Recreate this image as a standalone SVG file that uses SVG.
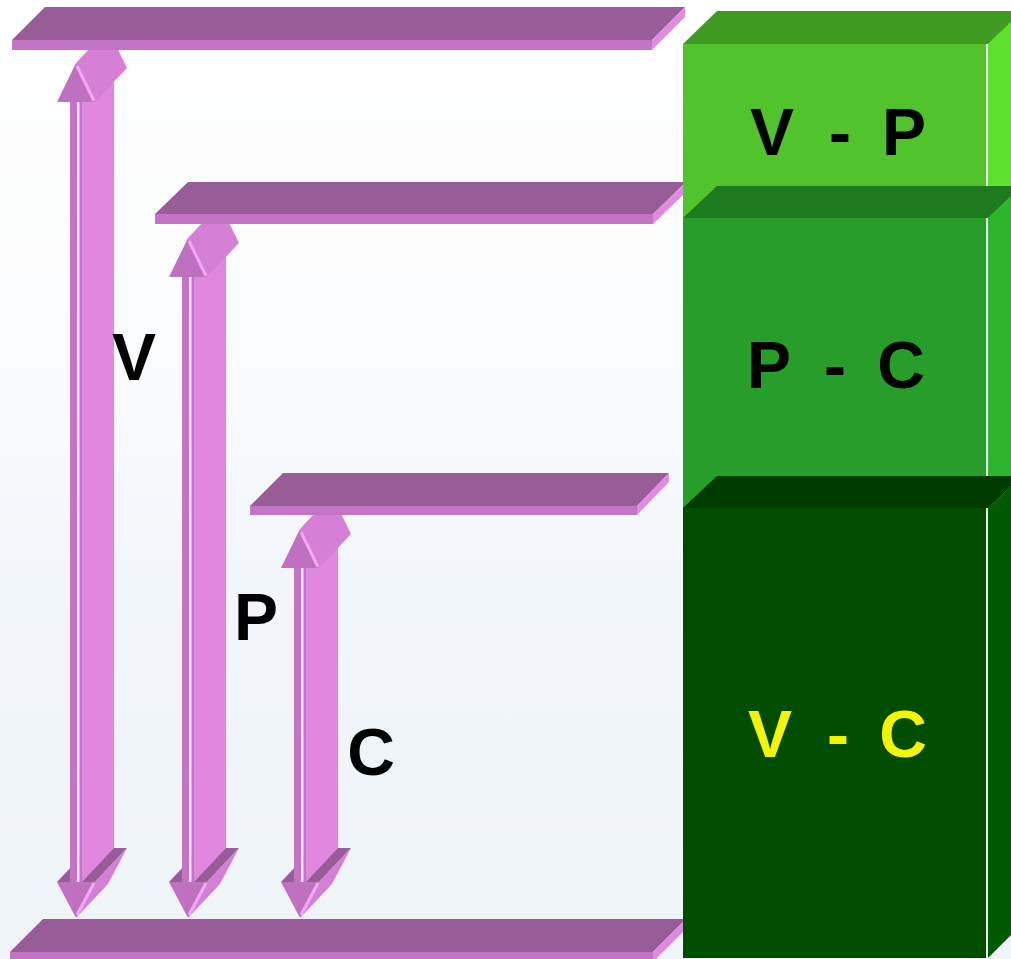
<svg xmlns="http://www.w3.org/2000/svg" width="1011" height="959" viewBox="0 0 1011 959">
  <style>
    .ptop { fill: #985c97; }
    .pfront { fill: #c474c4; }
    .pside { fill: #e08ae0; }
    .shaft-front { fill: #c474c4; }
    .shaft-hl { fill: #f6e6f6; }
    .shaft-side { fill: #e088e0; }
    .head-front { fill: #c070c0; }
    .head-side { fill: #d580d6; }
    .head-top { fill: #985c97; }
    .head-edge { stroke: #f2a8f2; stroke-width: 3; fill: none; }
    .lbl { font-family: "Liberation Sans", Arial, sans-serif; font-weight: bold; font-size: 66px; text-anchor: middle; fill: #000; }
    .edge-hl { fill: #f2fff0; }
  </style>
  <defs>
    <linearGradient id="bg" x1="0" y1="0" x2="0" y2="1">
      <stop offset="0" stop-color="#ffffff"/>
      <stop offset="0.35" stop-color="#fbfcfd"/>
      <stop offset="0.6" stop-color="#f2f6fa"/>
      <stop offset="1" stop-color="#eff4f8"/>
    </linearGradient>
    <!-- arrowhead pointing up, apex at origin -->
    <g id="head-up">
      <polygon class="head-side" points="0,0 19,39 51,5 32,-34"/>
      <polygon class="head-front" points="-19,39 19,39 0,0"/>
      <line class="head-edge" x1="1" y1="3" x2="18" y2="38"/>
    </g>
    <!-- arrowhead pointing down, apex at origin -->
    <g id="head-down">
      <polygon class="head-side" points="19,-36 51,-70 32,-34 0,0"/>
      <polygon class="head-front" points="-19,-36 19,-36 0,0"/>
      <line class="head-edge" x1="1" y1="-3" x2="18" y2="-35"/>
    </g>
    <polygon id="head-down-top" class="head-top" points="-19,-36 19,-36 51,-70 13,-70"/>
  </defs>

  <rect width="1011" height="959" fill="url(#bg)"/>

  <!-- dimension arrows -->
  <g id="connectors">
    <g id="arrow-v">
      <use href="#head-down-top" x="76" y="918"/>
      <polygon class="shaft-side" points="82,102 114,68 114,848 82,882"/>
      <rect class="shaft-front" x="70" y="102" width="12" height="780"/>
      <rect class="shaft-hl" x="77" y="102" width="2.5" height="780"/>
      <use href="#head-up" x="76" y="63"/>
      <use href="#head-down" x="76" y="918"/>
    </g>
    <g id="arrow-p">
      <use href="#head-down-top" x="188" y="918"/>
      <polygon class="shaft-side" points="194,277 226,243 226,848 194,882"/>
      <rect class="shaft-front" x="182" y="277" width="12" height="605"/>
      <rect class="shaft-hl" x="189" y="277" width="2.5" height="605"/>
      <use href="#head-up" x="188" y="238"/>
      <use href="#head-down" x="188" y="918"/>
    </g>
    <g id="arrow-c">
      <use href="#head-down-top" x="300" y="918"/>
      <polygon class="shaft-side" points="306,568 338,534 338,848 306,882"/>
      <rect class="shaft-front" x="294" y="568" width="12" height="314"/>
      <rect class="shaft-hl" x="301" y="568" width="2.5" height="314"/>
      <use href="#head-up" x="300" y="529"/>
      <use href="#head-down" x="300" y="918"/>
    </g>
  </g>

  <!-- level plates -->
  <g id="plate-1">
    <polygon class="ptop" points="45,7 685,7 652,40 12,40"/>
    <rect class="pfront" x="12" y="40" width="640" height="10"/>
    <polygon class="pside" points="652,40 685,7 685,17 652,50"/>
  </g>
  <g id="plate-2">
    <polygon class="ptop" points="188,182 686,182 653,214 155,214"/>
    <rect class="pfront" x="155" y="214" width="498" height="10"/>
    <polygon class="pside" points="653,214 686,182 686,192 653,224"/>
  </g>
  <g id="plate-3">
    <polygon class="ptop" points="283,473 669,473 637,506 250,506"/>
    <rect class="pfront" x="250" y="506" width="387" height="9"/>
    <polygon class="pside" points="637,506 669,473 669,482 637,515"/>
  </g>
  <g id="plate-4">
    <polygon class="ptop" points="43,919 686,919 653,952 10,952"/>
    <rect class="pfront" x="10" y="952" width="643" height="10"/>
    <polygon class="pside" points="653,952 686,919 686,929 653,962"/>
  </g>

  <!-- stacked blocks -->
  <g id="block-vp">
    <polygon fill="#5ee02f" points="988,44 1022,10 1022,186 988,218"/>
    <rect fill="#50c42a" x="683" y="44" width="305" height="174"/>
    <polygon fill="#3f9a22" points="683,44 717,11 1022,11 988,44"/>
    <rect class="edge-hl" x="986" y="44" width="2" height="174"/>
    <text class="lbl" x="772 806 840 872 904" y="155">V - P</text>
  </g>
  <g id="block-pc">
    <polygon fill="#2eb52e" points="988,218 1022,186 1022,476 988,508"/>
    <rect fill="#279e29" x="683" y="218" width="305" height="290"/>
    <polygon fill="#1e7a1e" points="683,218 717,186 1022,186 988,218"/>
    <rect class="edge-hl" x="986" y="218" width="2" height="290"/>
    <text class="lbl" x="769 802 835 868 901" y="388">P - C</text>
  </g>
  <g id="block-vc">
    <polygon fill="#005a00" points="988,508 1022,476 1022,924 988,958"/>
    <rect fill="#004d00" x="683" y="508" width="305" height="450"/>
    <polygon fill="#003c00" points="683,508 717,476 1022,476 988,508"/>
    <rect class="edge-hl" x="986" y="508" width="2" height="450"/>
    <text class="lbl" x="770 804 838 870 903" y="757" fill="#f5f500" style="fill:#f5f500">V - C</text>
  </g>

  <!-- arrow labels -->
  <g id="labels">
    <text class="lbl" x="134" y="380">V</text>
    <text class="lbl" x="256" y="640">P</text>
    <text class="lbl" x="371" y="775">C</text>
  </g>
</svg>
